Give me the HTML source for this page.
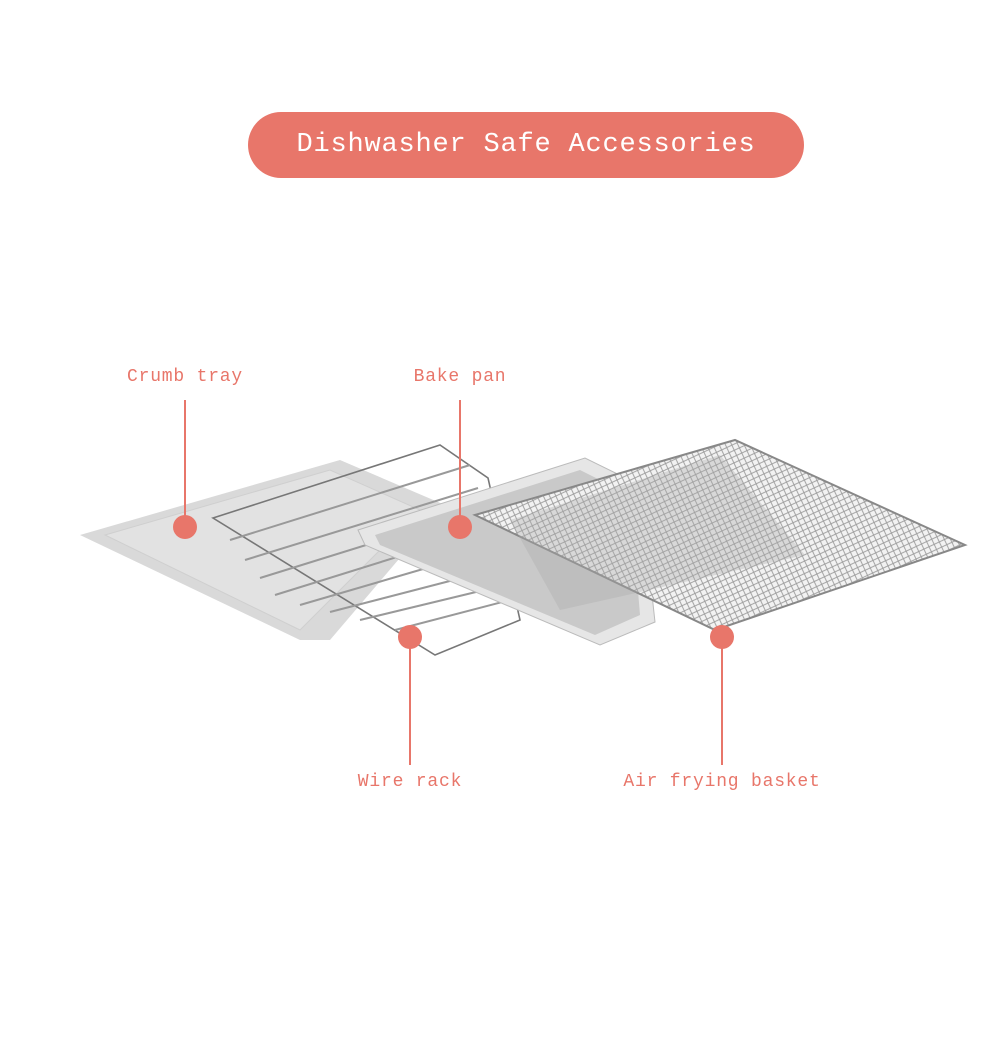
<!DOCTYPE html>
<html><head><style>
body{margin:0;background:#fff;width:1004px;height:1059px;overflow:hidden;position:relative;font-family:"Liberation Mono",monospace}
.pill{position:absolute;left:248px;top:112px;width:556px;height:66px;border-radius:33px;background:#e8766a;color:#fff;font-size:27px;line-height:66px;text-align:center;letter-spacing:0.8px}
.lbl{position:absolute;color:#e8766a;font-size:18px;letter-spacing:0.8px;transform:translateX(-50%);white-space:nowrap}
</style></head><body>
<div class="pill">Dishwasher Safe Accessories</div>
<svg width="1004" height="1059" style="position:absolute;left:0;top:0">
<defs>
<pattern id="mesh" width="8" height="8" patternUnits="userSpaceOnUse" patternTransform="rotate(20)">
<rect width="8" height="8" fill="#f2f2f2"/>
<path d="M0 0L8 8M8 0L0 8" stroke="#9a9a9a" stroke-width="0.9"/>
</pattern>
</defs>
<polygon points="80,535 340,460 445,505 330,640 300,640" fill="#d9d9d9"/>
<polygon points="105,535 330,470 420,510 300,630" fill="#e2e2e2" stroke="#cfcfcf"/>
<g stroke="#777" stroke-width="1.6" fill="none">
<polygon points="213,518 440,445 488,478 520,620 435,655"/>
<g stroke="#999" stroke-width="2">
<line x1="230" y1="540" x2="470" y2="465"/><line x1="245" y1="560" x2="478" y2="488"/>
<line x1="260" y1="578" x2="485" y2="508"/><line x1="275" y1="595" x2="490" y2="528"/>
<line x1="300" y1="605" x2="495" y2="548"/><line x1="330" y1="612" x2="500" y2="568"/>
<line x1="360" y1="620" x2="505" y2="585"/><line x1="395" y1="630" x2="510" y2="600"/>
</g></g>
<polygon points="358,530 585,458 640,485 655,622 600,645 365,545" fill="#e6e6e6" stroke="#bbb"/>
<polygon points="375,535 580,470 630,495 640,615 595,635 380,545" fill="#c9c9c9"/>
<polygon points="475,515 735,440 965,545 715,630" fill="url(#mesh)" stroke="#888" stroke-width="2"/>
<polygon points="510,520 720,455 805,555 560,610" fill="#a9a9a9" opacity="0.35"/>
<g stroke="#e8766a" stroke-width="2">
<line x1="185" y1="400" x2="185" y2="527"/><line x1="460" y1="400" x2="460" y2="527"/>
<line x1="410" y1="637" x2="410" y2="765"/><line x1="722" y1="637" x2="722" y2="765"/>
</g>
<g fill="#e8766a">
<circle cx="185" cy="527" r="12"/><circle cx="460" cy="527" r="12"/>
<circle cx="410" cy="637" r="12"/><circle cx="722" cy="637" r="12"/>
</g>
</svg>
<div class="lbl" style="left:185px;top:367px">Crumb tray</div>
<div class="lbl" style="left:460px;top:367px">Bake pan</div>
<div class="lbl" style="left:410px;top:772px">Wire rack</div>
<div class="lbl" style="left:722px;top:772px">Air frying basket</div>
</body></html>
